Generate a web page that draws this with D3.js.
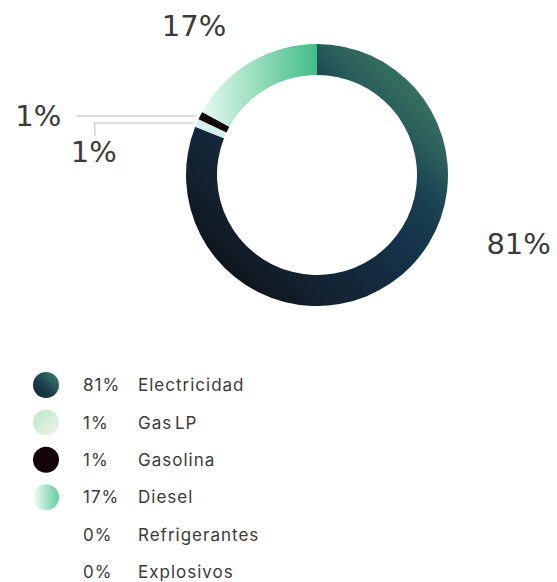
<!DOCTYPE html>
<html>
<head>
<meta charset="utf-8">
<script src="https://cdn.jsdelivr.net/npm/d3@7"></script>
<style>
  html, body { margin: 0; padding: 0; background: #fff; }
  svg { display: block; }
</style>
</head>
<body>
<svg id="chart" width="557" height="582"></svg>
<script>
// Energy sources share
const categories = ["Electricidad", "Gas LP", "Gasolina", "Diesel", "Refrigerantes", "Explosivos"];
const values = [81, 1, 1, 17, 0, 0];
const pctLabels = ["81%", "1%", "1%", "17%", "0%", "0%"];

const svg = d3.select("#chart");
const defs = svg.append("defs");

const cx = 317, cy = 175, outerR = 131, innerR = 100;

// Gradients for slices and legend swatches
function linGrad(id, x1, y1, x2, y2, stops, units) {
  const g = defs.append("linearGradient").attr("id", id)
    .attr("x1", x1).attr("y1", y1).attr("x2", x2).attr("y2", y2);
  if (units) g.attr("gradientUnits", units);
  stops.forEach(s => g.append("stop").attr("offset", s[0]).attr("stop-color", s[1]));
  return `url(#${id})`;
}
// main slice gradient runs along the top-right → bottom-left diagonal
// (coordinates are in the donut group's space, centred on 0,0)
const gdir = [-Math.SQRT1_2, Math.SQRT1_2];
const fills = [
  linGrad("gElec",
    -gdir[0] * outerR, -gdir[1] * outerR,
    gdir[0] * outerR, gdir[1] * outerR,
    [[0, "#36705f"], [0.12, "#2b5f5b"], [0.22, "#1f4a56"], [0.32, "#183b4d"],
     [0.45, "#15324a"], [0.85, "#13202d"], [1, "#0d151c"]], "userSpaceOnUse"),
  "#d4f1ee",
  "#130509",
  linGrad("gDiesel", "0%", "0%", "100%", "0%", [[0, "#e6f9f0"], [1, "#41bd86"]]),
  "none", "none"
];
const legendFills = [
  linGrad("lElec", "100%", "0%", "0%", "100%", [[0, "#3f8470"], [0.6, "#1a3a4c"], [1, "#0f2030"]]),
  linGrad("lGas", "0%", "0%", "100%", "100%", [[0, "#b8e6cc"], [1, "#f0f4e6"]]),
  "#13050a",
  linGrad("lDiesel", "0%", "0%", "100%", "0%", [[0, "#f4fcf8"], [1, "#62cda0"]]),
  "none", "none"
];

const pie = d3.pie().sort(null).value(d => d);
const arcs = pie(values);
const arc = d3.arc().innerRadius(innerR).outerRadius(outerR);

const g = svg.append("g").attr("transform", `translate(${cx},${cy})`);
g.selectAll("path.slice")
  .data(arcs.filter(a => a.value > 0))
  .join("path")
  .attr("class", "slice")
  .attr("d", arc)
  .attr("fill", d => fills[d.index]);

// Outside labels: angle offset (deg) and radius for each label, plus leader style
const labelLayout = [
  { da: -37, r: 213, leader: null },
  { leader: "elbow" },
  { leader: "straight" },
  { da: -9, r: 193, leader: null }
];
function bigLabel(x, y, t) {
  g.append("text")
    .attr("x", x).attr("y", y)
    .attr("text-anchor", "middle").attr("dominant-baseline", "central")
    .attr("font-family", "DejaVu Sans").attr("font-size", 29)
    .attr("fill", "#3a3a3a")
    .text(t);
}

arcs.slice(0, 4).forEach((a, i) => {
  const lay = labelLayout[i];
  const mid = (a.startAngle + a.endAngle) / 2;
  if (!lay.leader) {
    const ang = mid + lay.da * Math.PI / 180;
    bigLabel(Math.sin(ang) * lay.r, -Math.cos(ang) * lay.r, pctLabels[i]);
  } else {
    // leader from the slice edge out to the left
    const ex = Math.sin(mid) * outerR, ey = -Math.cos(mid) * outerR;
    if (lay.leader === "straight") {
      const ly = ey + 0.5;
      g.append("path")
        .attr("d", `M${ex - 4},${ly} H${ex - 124}`)
        .attr("fill", "none").attr("stroke", "#d2d2d2").attr("stroke-width", 1.5);
      bigLabel(ex - 162, ly, pctLabels[i]);
    } else {
      const ly = ey;
      g.append("path")
        .attr("d", `M${ex - 3},${ly} H${ex - 102} V${ly + 13}`)
        .attr("fill", "none").attr("stroke", "#d2d2d2").attr("stroke-width", 1.5);
      bigLabel(ex - 103, ly + 29, pctLabels[i]);
    }
  }
});

// Legend
const legendY = d3.scalePoint().domain(categories).range([385, 572]);
const leg = svg.append("g").selectAll("g")
  .data(categories)
  .join("g")
  .attr("transform", d => `translate(0,${legendY(d)})`);
leg.append("circle")
  .attr("cx", 46).attr("cy", 0).attr("r", 13)
  .attr("fill", (d, i) => legendFills[i]);
const legText = (x, fn) => leg.append("text")
  .attr("x", x).attr("y", 0).attr("dy", "0.36em")
  .attr("font-family", "Inter").attr("font-size", 17)
  .attr("letter-spacing", 1).attr("word-spacing", -3)
  .attr("fill", "#3a3a3a")
  .text(fn);
legText(83, (d, i) => pctLabels[i]);
legText(138, d => d);
</script>
</body>
</html>
